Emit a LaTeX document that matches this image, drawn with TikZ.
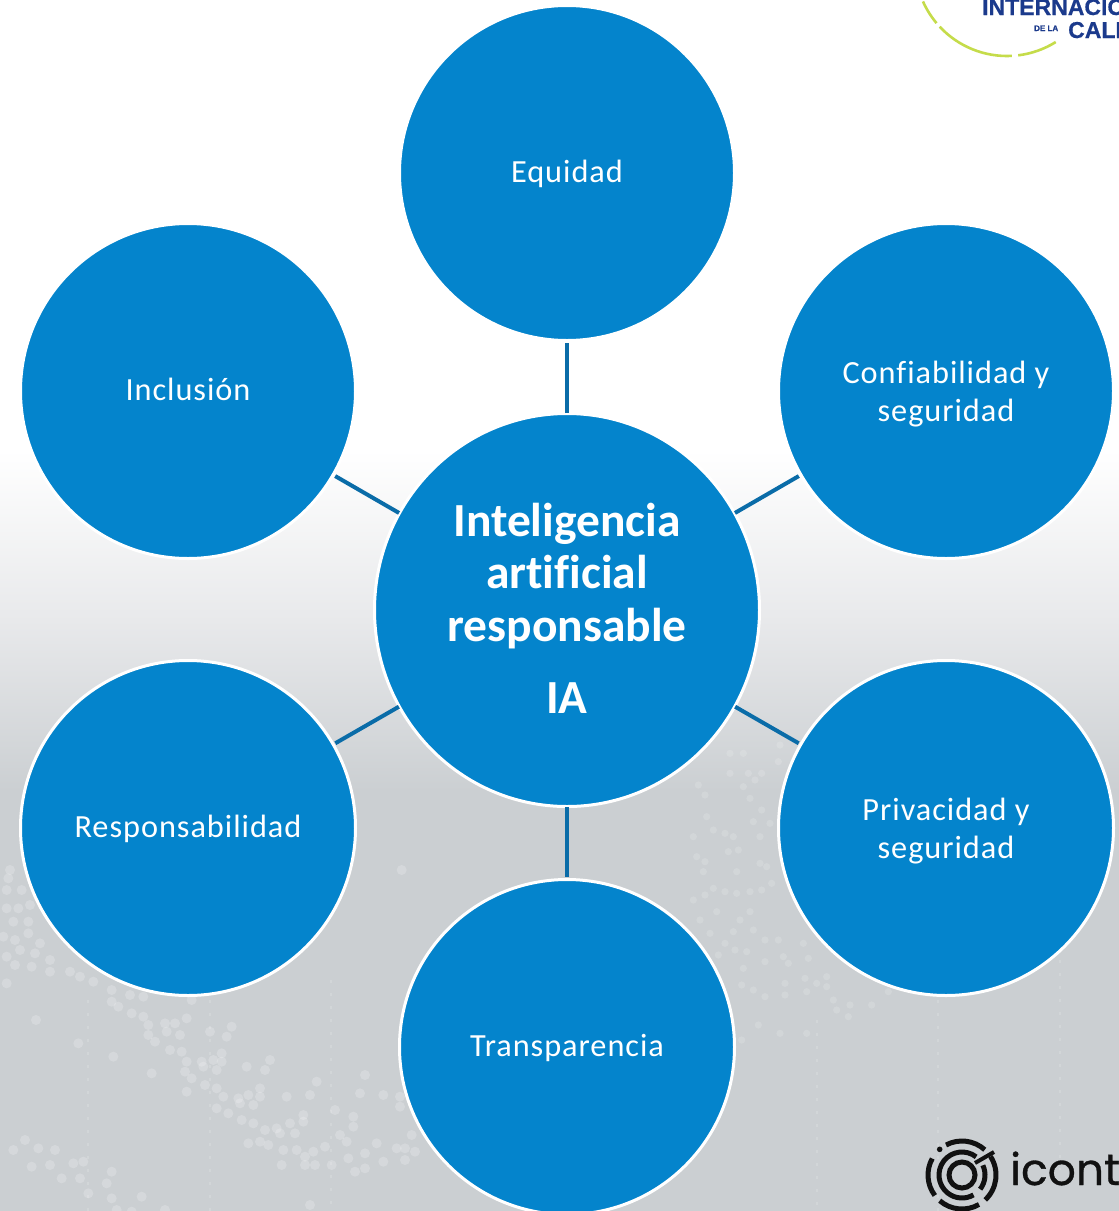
\documentclass[tikz,border=0pt]{standalone}
\usepackage{fontspec}
\setmainfont[Ligatures=NoCommon]{Carlito}
\newfontfamily\topicfont[LetterSpace=3,Ligatures=NoCommon]{Carlito}
\newfontfamily\logofont[FakeBold=0.5]{Liberation Sans}
\newfontfamily\brandfont[FakeBold=0.7]{Poppins}
\usetikzlibrary{shapes.geometric}
\definecolor{nodeblue}{HTML}{0484CC}
\definecolor{linkblue}{HTML}{0A6CA8}
\definecolor{bgmid}{HTML}{E8E9EB}
\definecolor{bgdark}{HTML}{CBCFD2}
\definecolor{logonavy}{HTML}{1B3A8C}
\definecolor{logogreen}{HTML}{C5DC4A}
\definecolor{brandblack}{HTML}{111111}
\tikzset{
  x=1pt,y=1pt,
  topic/.style={circle,draw=white,line width=3pt,fill=nodeblue,text=white,minimum size=335pt,inner sep=0pt,align=center,
    font=\topicfont\fontsize{32.3}{38.5}\selectfont},
  onepad/.style={execute at begin node={\rule{0pt}{27pt}},execute at end node={\rule[-8pt]{0pt}{8pt}}},
  topiclabel/.style={text=white,inner sep=0pt,align=center,font=\topicfont\fontsize{32.3}{38.5}\selectfont},
  hub/.style={ellipse,draw=white,line width=3pt,fill=nodeblue,text=white,minimum width=385pt,minimum height=393pt,inner sep=0pt,align=center,
    font=\fontsize{47.5}{52.5}\selectfont\bfseries,
    execute at end node={\rule[-4pt]{0pt}{4pt}}},
  link/.style={draw=linkblue,line width=4pt,shorten <=-1pt,shorten >=1pt},
  speck/.style={fill=white,fill opacity=.2},
  softspeck/.style={fill=white,fill opacity=.15},
  ringpart/.style={draw=brandblack,line width=5pt},
}
\begin{document}
\begin{tikzpicture}
\useasboundingbox (0,0) rectangle (1119,-1211);
\clip (0,0) rectangle (1119,-1211);
% background
\fill[white] (0,0) rectangle (1119,-451);
\shade[top color=white,bottom color=bgmid] (0,-450) rectangle (1119,-621);
\shade[top color=bgmid,bottom color=bgdark] (0,-620) rectangle (1119,-791);
\fill[bgdark] (0,-790) rectangle (1119,-1211);
% specks, lower left
\foreach \a/\b in {20/120,65/120,30/60,25/85,20/175,55/175,90/165,40/215,85/215,10/260,45/270,85/250,120/280,20/320,60/300,105/310,150/330,45/345,95/350,150/365,20/400,210/365,240/380,280/395,335/420,390/435,430/440,335/455,355/470,395/490,430/500,445/525,495/520,525/520,560/505,445/555,500/545,540/555,465/575,630/545,695/530,680/560,510/600,545/605,560/635,605/635,640/630,665/610,665/635,555/665,610/650,650/660,575/685,615/705,650/715,560/725,670/740,715/745,745/735,780/715,780/740,720/760,760/765,650/775,685/790,725/810,760/820,795/840,830/835,870/820,910/795,910/815,885/850,840/850,780/875,745/880,805/885,850/900,890/900,940/905,915/920,975/890,1020/855,1040/875,995/945,945/945,915/945,845/945,1045/925,1065/965,1095/955,1095/910,1130/880,1150/935,1190/895,1215/895,1245/905,1215/930,1235/855,1060/800,1060/830,1005/780,860/740,930/735,1080/730,1150/735,1200/740,1200/770,1095/675,950/695,795/660,810/630,740/650,455/670,340/620,235/580,108/510,75/870,40/900,115/895,165/900,95/950,150/945,220/940,250/935,185/985,240/985,335/965,320/1000,265/1030,335/1045,425/1040,350/1080,395/1085,495/1080,930/1065,1205/60,575/450}
  \fill[speck] (\a/3,-850-\b/3) circle (5);
% specks, lower right
\foreach \a/\b in {120/70,160/70,120/130,175/130,215/130,265/95,270/45,25/165,45/195,160/170,195/150,180/205,215/240,50/260,190/275,240/280,70/300,10/320,105/310,130/320,210/320,115/365,145/360,20/380,45/395,40/425,140/425,210/400,230/410,70/475,45/495,105/485,140/490,180/485,215/480,245/460,10/510,80/545,150/570,180/545,30/570,60/610,130/605,190/600,225/630,265/630,105/640,135/660,170/665,85/675,225/695,280/680,295/700,160/715,340/640,355/685,345/745,380/760,410/740,155/765,190/780,285/760,225/800,285/795,350/785,410/770,430/810,480/825,545/825,440/840,475/860,595/785,205/885,270/910,350/910,155/930}
  \fill[softspeck] (690+\a/3,-730-\b/3) circle (3.6);
% faint dotted columns
\foreach \c/\t/\u in {88/1000/1211,210/1000/1211,331/980/1211,817/1020/1211,938/1000/1211,1060/960/1170}
  \draw[white,opacity=.15,line width=2.5pt,dash pattern=on 2.5pt off 10.5pt] (\c,-\t) -- (\c,-\u);

% nodes
\node[hub] (hubnode) at (567,-610) {Inteligencia\\artificial\\responsable\\[19.5pt]IA};
\node[topic,onepad] (equidad) at (567,-173) {Equidad};
\node[topic,label={[topiclabel,yshift=-3pt]center:{Confiabilidad y\\seguridad}}] (confiab) at (946,-391) {};
\node[topic,label={[topiclabel,yshift=-3pt]center:{Privacidad y\\seguridad}}] (privac) at (946,-828) {};
\node[topic,onepad] (transp) at (567,-1047) {Transparencia};
\node[topic,onepad] (respons) at (188,-828) {Responsabilidad};
\node[topic,onepad] (inclus) at (188,-391) {Inclusión};

% connectors
\draw[link] (hubnode) -- (equidad);
\draw[link] (hubnode) -- (confiab);
\draw[link] (hubnode) -- (privac);
\draw[link] (hubnode) -- (transp);
\draw[link] (hubnode) -- (respons);
\draw[link] (hubnode) -- (inclus);

% top right logo
\draw[logogreen,line width=2.6pt] (1007,36) ++(-156:92) arc (-156:-140:92);
\draw[logogreen,line width=2.6pt] (1007,36) ++(-137:92) arc (-137:-87:92);
\draw[logogreen,line width=2.6pt] (1007,36) ++(-83:92) arc (-83:-58:92);
\node[anchor=base west,inner sep=0pt,text=logonavy,font=\logofont\fontsize{23}{23}\selectfont\bfseries] (logotop) at (982,-15) {INTERNACIO};
\node[anchor=base west,inner sep=0pt,text=logonavy,font=\logofont\fontsize{8}{8}\selectfont\bfseries] (logode) at (1034,-31) {DE LA};
\node[anchor=base west,inner sep=0pt,text=logonavy,font=\logofont\fontsize{23}{23}\selectfont\bfseries] (logocal) at (1068,-38) {CALI};

% bottom right logo
\coordinate (ringc) at (962,-1175);
\foreach \s/\e in {48/118,-47/33,-131/-60,151/217}
  \draw[ringpart] (ringc) ++(\s:34) arc (\s:\e:34);
\fill[brandblack] (ringc) ++(131:34) circle (2.8);
\draw[ringpart] (ringc) ++(52:23) arc (52:300:23);
\draw[ringpart] (ringc) ++(-38:23) arc (-38:25:23);
\draw[ringpart] (ringc) circle (13);
\draw[brandblack,line width=4pt] (ringc) ++(13,12) -- ++(19,11);
\node[anchor=base west,inner sep=0pt,text=brandblack,font=\brandfont\fontsize{44}{44}\selectfont] (brandname) at (1010,-1185) {icont};
\end{tikzpicture}
\end{document}
